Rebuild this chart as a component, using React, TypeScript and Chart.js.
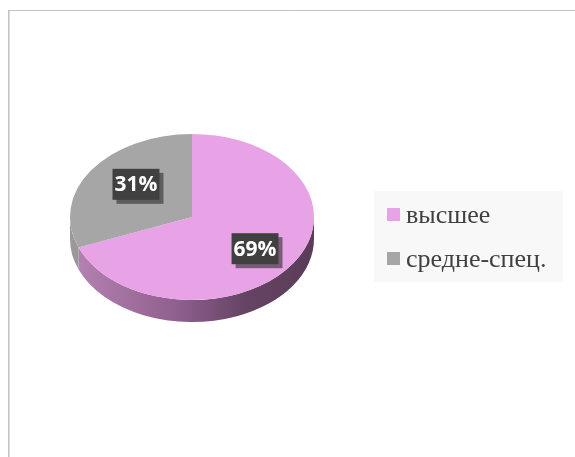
import React, { useEffect, useRef } from 'react';
import { Chart, registerables } from 'chart.js';

Chart.register(...registerables);

const categories = ['высшее', 'средне-спец.'];
const values = [69, 31];
const sliceColors = ['#E8A3E6', '#A6A6A6'];
const sideColors = [
  ['#b584b3', '#8e5e8c', '#654463', '#5a3c58'],
  ['#9a9a9a', '#808080', '#6a6a6a', '#606060'],
];
const labelTexts = values.map((v) => `${v}%`);

const SQUASH = 83 / 122;
const DEPTH = 22;

const pie3d = {
  id: 'pie3d',
  beforeDraw(chart: any) {
    const ctx = chart.ctx;
    ctx.save();
    ctx.fillStyle = '#ffffff';
    ctx.fillRect(0, 0, chart.width, chart.height);
    ctx.strokeStyle = '#c4c4c4';
    ctx.lineWidth = 1;
    ctx.beginPath();
    ctx.moveTo(8, 10.5);
    ctx.lineTo(chart.width, 10.5);
    ctx.stroke();
    ctx.beginPath();
    ctx.moveTo(8.5, 10);
    ctx.lineTo(8.5, chart.height);
    ctx.stroke();
    ctx.strokeStyle = '#dedede';
    ctx.beginPath();
    ctx.moveTo(9.5, 11);
    ctx.lineTo(9.5, chart.height);
    ctx.stroke();
    ctx.restore();
  },
  beforeDatasetsDraw(chart: any) {
    const ctx = chart.ctx;
    const arcs = chart.getDatasetMeta(0).data;
    if (!arcs.length) return;
    const { x: cx, y: cy, outerRadius: R } = arcs[0];
    const ry = R * SQUASH;
    ctx.save();
    arcs.forEach((a: any, i: number) => {
      const s = a.startAngle;
      const e = a.endAngle;
      const g = ctx.createLinearGradient(cx - R, 0, cx + R, 0);
      const stops = sideColors[i % sideColors.length];
      g.addColorStop(0, stops[0]);
      g.addColorStop(0.45, stops[1]);
      g.addColorStop(0.72, stops[2]);
      g.addColorStop(1, stops[3]);
      for (const k of [-2 * Math.PI, 0, 2 * Math.PI]) {
        const a0 = Math.max(s, k);
        const a1 = Math.min(e, k + Math.PI);
        if (a1 <= a0) continue;
        ctx.beginPath();
        ctx.ellipse(cx, cy, R, ry, 0, a0, a1, false);
        ctx.lineTo(cx + R * Math.cos(a1), cy + ry * Math.sin(a1) + DEPTH);
        ctx.ellipse(cx, cy + DEPTH, R, ry, 0, a1, a0, true);
        ctx.closePath();
        ctx.fillStyle = g;
        ctx.fill();
      }
    });
    ctx.restore();
    ctx.save();
    ctx.translate(cx, cy);
    ctx.scale(1, SQUASH);
    ctx.translate(-cx, -cy);
  },
  afterDatasetsDraw(chart: any) {
    const ctx = chart.ctx;
    ctx.restore();
    const arcs = chart.getDatasetMeta(0).data;
    if (!arcs.length) return;
    ctx.save();
    ctx.font = 'bold 21px "Open Sans"';
    ctx.textAlign = 'center';
    ctx.textBaseline = 'middle';
    arcs.forEach((a: any, i: number) => {
      const mid = (a.startAngle + a.endAngle) / 2;
      const R = a.outerRadius;
      const lx = a.x + 0.59 * R * Math.cos(mid) + 3.5;
      const ly = a.y + 0.69 * R * SQUASH * Math.sin(mid) - 0.5;
      const t = labelTexts[i];
      const w = ctx.measureText(t).width + 4;
      const h = 31;
      ctx.fillStyle = 'rgba(45,45,45,0.6)';
      ctx.fillRect(lx - w / 2 + 4, ly - h / 2 + 4, w, h);
      ctx.fillStyle = '#404040';
      ctx.fillRect(lx - w / 2, ly - h / 2, w, h);
      ctx.fillStyle = '#ffffff';
      ctx.fillText(t, lx, ly + 1);
    });
    ctx.restore();
  },
  afterDraw(chart: any) {
    const ctx = chart.ctx;
    ctx.save();
    ctx.fillStyle = '#f8f8f8';
    ctx.fillRect(374, 191, 189, 91);
    ctx.font = '26px "Liberation Serif"';
    ctx.textBaseline = 'alphabetic';
    ctx.textAlign = 'left';
    categories.forEach((c, i) => {
      const y = 208 + i * 44;
      ctx.fillStyle = sliceColors[i];
      ctx.fillRect(387, y, 13, 13);
      ctx.fillStyle = '#404040';
      ctx.fillText(c, 406, y + 15);
    });
    ctx.restore();
  },
};

export default function App() {
  const ref = useRef<HTMLCanvasElement>(null);
  useEffect(() => {
    if (!ref.current) return;
    const chart = new Chart(ref.current, {
      type: 'pie',
      data: {
        labels: categories,
        datasets: [
          {
            data: values,
            backgroundColor: sliceColors,
            borderWidth: 0,
          },
        ],
      },
      options: {
        responsive: false,
        animation: false,
        layout: { padding: { left: 70, right: 261, top: 95, bottom: 118 } },
        plugins: {
          legend: { display: false },
          tooltip: { enabled: false },
        },
      },
      plugins: [pie3d],
    });
    return () => chart.destroy();
  }, []);
  return (
    <div style={{ position: 'fixed', left: 0, top: 0, width: 575, height: 457 }}>
      <canvas ref={ref} width={575} height={457} style={{ width: 575, height: 457, display: 'block' }} />
    </div>
  );
}
